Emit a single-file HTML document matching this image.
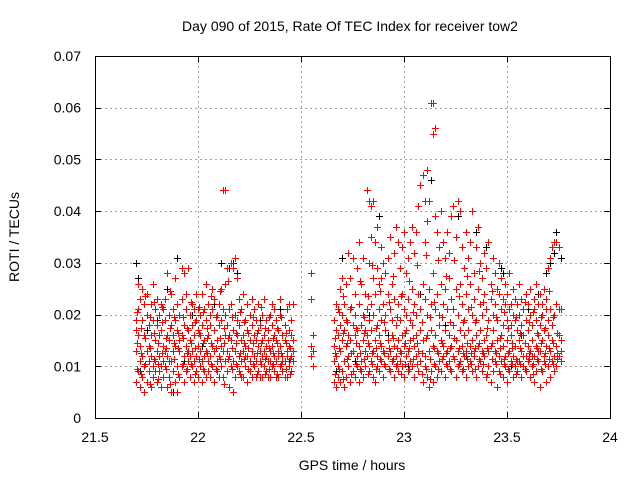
<!DOCTYPE html>
<html><head><meta charset="utf-8"><style>
html,body{margin:0;padding:0;background:#fff}
svg{display:block;font-family:"Liberation Sans",sans-serif}
</style></head><body>
<svg id="chart" width="640" height="480" viewBox="0 0 640 480" xmlns="http://www.w3.org/2000/svg">
<rect width="640" height="480" fill="#fff"/>
<text x="350" y="31" font-size="14" text-anchor="middle">Day 090 of 2015, Rate Of TEC Index for receiver tow2</text>
<text transform="translate(19,237) rotate(-90)" font-size="14" text-anchor="middle">ROTI / TECUs</text>
<text x="352" y="470" font-size="14" text-anchor="middle">GPS time / hours</text>
<g id="grid"></g>
<g id="ticks"></g>
<g id="black"></g>
<g id="red"></g>
<rect x="95.5" y="56.5" width="515" height="362" fill="none" stroke="#000" stroke-width="1"/>
</svg>
<script>
const xTicks=[21.5,22,22.5,23,23.5,24];
const xTickLabels=["21.5","22","22.5","23","23.5","24"];
const yTicks=[0,0.01,0.02,0.03,0.04,0.05,0.06,0.07];
const yTickLabels=["0","0.01","0.02","0.03","0.04","0.05","0.06","0.07"];
const redT=[21.70,21.71,21.72,21.73,21.74,21.75,21.76,21.77,21.78,21.79,21.80,21.81,21.82,21.83,21.84,21.85,21.86,21.87,21.88,21.89,21.90,21.91,21.92,21.93,21.94,21.95,21.96,21.97,21.98,21.99,22.00,22.01,22.02,22.03,22.04,22.05,22.06,22.07,22.08,22.09,22.10,22.11,22.12,22.13,22.14,22.15,22.16,22.17,22.18,22.19,22.20,22.21,22.22,22.23,22.24,22.25,22.26,22.27,22.28,22.29,22.30,22.31,22.32,22.33,22.34,22.35,22.36,22.37,22.38,22.39,22.40,22.41,22.42,22.43,22.44,22.45,22.46,
22.55,22.56,
22.66,22.67,22.68,22.69,22.70,22.71,22.72,22.73,22.74,22.75,22.76,22.77,22.78,22.79,22.80,22.81,22.82,22.83,22.84,22.85,22.86,22.87,22.88,22.89,22.90,22.91,22.92,22.93,22.94,22.95,22.96,22.97,22.98,22.99,23.00,23.01,23.02,23.03,23.04,23.05,23.06,23.07,23.08,23.09,23.10,23.11,23.12,23.13,23.14,23.15,23.16,23.17,23.18,23.19,23.20,23.21,23.22,23.23,23.24,23.25,23.26,23.27,23.28,23.29,23.30,23.31,23.32,23.33,23.34,23.35,23.36,23.37,23.38,23.39,23.40,23.41,23.42,23.43,23.44,23.45,23.46,23.47,23.48,23.49,23.50,23.51,23.52,23.53,23.54,23.55,23.56,23.57,23.58,23.59,23.60,23.61,23.62,23.63,23.64,23.65,23.66,23.67,23.68,23.69,23.70,23.71,23.72,23.73,23.74,23.75,23.76];
const redV=[[.007,.013,.019,.017],[.009,.016,.021,.026],[.006,.011,.023,.014],[.008,.019,.025,.012],[.010,.005,.016,.022],[.007,.013,.020,.024],[.009,.014,.018,.011],[.006,.012,.022,.016],[.008,.010,.019,.026],[.011,.015,.021,.009],[.007,.013,.018,.023],[.009,.016,.012,.020],[.006,.010,.017,.022],[.008,.014,.021,.011],[.010,.013,.019,.023],[.006,.012,.016,.028],[.008,.015,.020,.011],[.005,.011,.018,.024],[.009,.013,.021,.016],[.007,.014,.019,.027],[.005,.010,.017,.022],[.008,.013,.020,.015],[.010,.016,.023,.029],[.007,.012,.018,.028],[.009,.014,.021,.024],[.011,.013,.017,.029],[.008,.015,.020,.012],[.010,.013,.018,.022],[.007,.016,.021,.011],[.009,.012,.019,.024],[.008,.014,.017,.021],[.010,.013,.020,.016],[.007,.011,.018,.024],[.009,.015,.021,.012],[.008,.013,.019,.026],[.011,.016,.022,.009],[.008,.012,.018,.020],[.010,.014,.021,.025],[.007,.013,.017,.023],[.009,.015,.020,.011],[.012,.018,.022,.008],[.010,.014,.019,.025],[.008,.013,.021,.044],[.011,.016,.020,.044,.026],[.009,.013,.018,.029],[.006,.012,.016,.021],[.010,.015,.022,.030],[.005,.011,.017,.029],[.008,.013,.020,.031],[.010,.016,.019,.027],[.009,.012,.018,.023],[.011,.015,.021,.008],[.008,.013,.016,.024],[.010,.014,.019,.012],[.007,.012,.017,.022],[.009,.015,.020,.011],[.008,.013,.018,.023],[.010,.016,.021,.012],[.008,.011,.015,.019],[.009,.014,.017,.022],[.011,.013,.018,.008],[.008,.015,.020,.012],[.010,.013,.016,.023],[.009,.012,.019,.014],[.011,.015,.017,.008],[.008,.013,.020,.011],[.010,.014,.018,.022],[.009,.012,.016,.021],[.011,.015,.019,.008],[.008,.013,.017,.012],[.010,.014,.020,.023],[.009,.012,.016,.011],[.011,.015,.018,.008],[.008,.013,.021,.012],[.010,.014,.017,.022],[.009,.012,.016,.019],[.011,.015,.013,.022],
[.012,.014,.023,.028],[.010,.013,.016],
[.007,.014,.019,.011],[.006,.012,.017,.022],[.008,.016,.021,.010],[.007,.013,.018,.025],[.009,.015,.020,.027],[.006,.011,.017,.022],[.008,.014,.019,.026],[.010,.012,.016,.032],[.007,.015,.021,.027],[.009,.013,.018,.031],[.008,.016,.020,.024],[.010,.012,.017,.029],[.007,.014,.022,.034],[.009,.011,.018,.026],[.008,.015,.020,.031],[.010,.013,.017,.024],[.012,.016,.021,.044],[.009,.014,.019,.042,.030],[.011,.017,.022,.041,.035],[.008,.013,.020,.042,.027],[.007,.015,.024,.034],[.010,.012,.018,.029,.037],[.009,.016,.021,.026],[.011,.014,.019,.033,.027],[.008,.013,.022,.030],[.010,.017,.020,.028],[.012,.015,.024,.031],[.009,.013,.021,.035],[.011,.016,.019,.026],[.008,.014,.023,.032],[.010,.012,.018,.037],[.009,.015,.022,.034],[.011,.013,.019,.029],[.010,.016,.024,.033],[.008,.014,.021,.036],[.012,.017,.020,.028],[.009,.013,.023,.031],[.011,.015,.019,.034],[.010,.018,.025,.037],[.008,.014,.022,.032],[.012,.016,.020,.036],[.009,.013,.024,.041],[.011,.017,.021,.045],[.007,.015,.026,.047],[.010,.012,.023,.042,.034],[.008,.016,.020,.048,.038],[.006,.013,.025,.042],[.009,.017,.022,.061],[.007,.014,.028,.061,.055],[.010,.016,.021,.056,.039],[.008,.013,.024,.036],[.011,.018,.020,.033],[.009,.015,.026,.040],[.012,.014,.022,.034],[.008,.017,.025,.031],[.010,.013,.021,.036],[.011,.016,.027,.032],[.009,.014,.023,.039],[.012,.018,.021,.041],[.008,.015,.025,.035],[.010,.013,.020,.042],[.011,.017,.026,.040],[.009,.014,.022,.033],[.012,.016,.019,.029],[.008,.013,.024,.036],[.010,.017,.021,.031],[.011,.014,.026,.034],[.009,.015,.020,.040],[.012,.013,.023,.028],[.008,.016,.019,.033],[.010,.014,.025,.037],[.011,.017,.022,.030],[.009,.013,.020,.027],[.012,.015,.024,.032],[.008,.016,.021,.029],[.010,.013,.019,.034],[.007,.014,.023,.026],[.009,.017,.020,.031],[.011,.013,.022,.028],[.006,.015,.019,.025],[.009,.012,.024,.030],[.011,.016,.021,.027],[.008,.014,.018,.023],[.010,.012,.022,.026],[.007,.015,.019,.024],[.009,.013,.021,.028],[.011,.016,.018,.022],[.008,.012,.020,.025],[.010,.014,.023,.019],[.009,.011,.017,.022],[.011,.015,.020,.026],[.008,.013,.018,.023],[.010,.016,.021,.012],[.009,.012,.019,.024],[.011,.014,.017,.022],[.008,.013,.020,.025],[.010,.015,.018,.012],[.007,.012,.021,.023],[.009,.014,.019,.026],[.011,.016,.022,.013],[.006,.013,.018,.024],[.009,.015,.020,.022],[.011,.012,.017,.025],[.007,.014,.021,.023],[.010,.016,.019,.029],[.008,.013,.021,.031],[.011,.015,.018,.033],[.009,.012,.020,.034],[.010,.014,.022,.034],[.012,.016,.021,.033],[.011,.013,.015,.021]];
const redT2=[21.705,21.725,21.745,21.765,21.785,21.805,21.825,21.845,21.865,21.885,21.905,21.925,21.945,21.965,21.985,22.005,22.025,22.045,22.065,22.085,22.105,22.125,22.145,22.165,22.185,22.205,22.225,22.245,22.265,22.285,22.305,22.325,22.345,22.365,22.385,22.405,22.425,22.445,
22.665,22.685,22.705,22.725,22.745,22.765,22.785,22.805,22.825,22.845,22.865,22.885,22.905,22.925,22.945,22.965,22.985,23.005,23.025,23.045,23.065,23.085,23.105,23.125,23.145,23.165,23.185,23.205,23.225,23.245,23.265,23.285,23.305,23.325,23.345,23.365,23.385,23.405,23.425,23.445,23.465,23.485,23.505,23.525,23.545,23.565,23.585,23.605,23.625,23.645,23.665,23.685,23.705,23.725,23.745];
const redV2=[[.0145,.0095,.0205],[.0125,.0175,.0085],[.0155,.0235,.0105],[.0135,.0065,.0195],[.0165,.0115,.0225],[.0105,.0145,.0075],[.0185,.0125,.0215],[.0095,.0155,.0135],[.0175,.0065,.0245],[.0115,.0145,.0195],[.0135,.0085,.0165],[.0105,.0155,.0195],[.0125,.0175,.0095],[.0145,.0105,.0225],[.0135,.0085,.0185],[.0115,.0165,.0215],[.0145,.0095,.0205],[.0125,.0175,.0155],[.0105,.0145,.0235],[.0135,.0195,.0095],[.0155,.0115,.0245],[.0145,.0175,.0065],[.0115,.0155,.0265],[.0135,.0095,.0195],[.0105,.0165,.0145],[.0125,.0085,.0205],[.0145,.0115,.0185],[.0135,.0095,.0165],[.0105,.0145,.0195],[.0125,.0085,.0165],[.0145,.0105,.0215],[.0115,.0175,.0085],[.0135,.0095,.0195],[.0105,.0155,.0125],[.0145,.0085,.0175],[.0125,.0105,.0195],[.0095,.0145,.0165],[.0115,.0135,.0085],
[.0085,.0155,.0125],[.0095,.0135,.0205],[.0075,.0165,.0235],[.0115,.0145,.0185],[.0085,.0125,.0215],[.0105,.0175,.0145],[.0095,.0125,.0265],[.0115,.0165,.0195],[.0085,.0145,.0235],[.0125,.0105,.0295],[.0095,.0175,.0135],[.0115,.0145,.0245],[.0105,.0185,.0125],[.0135,.0095,.0225],[.0115,.0155,.0275],[.0105,.0135,.0195],[.0125,.0085,.0235],[.0105,.0165,.0145],[.0135,.0095,.0265],[.0115,.0155,.0205],[.0105,.0145,.0295],[.0125,.0085,.0185],[.0095,.0155,.0315],[.0115,.0075,.0195],[.0105,.0135,.0225],[.0125,.0095,.0305],[.0115,.0145,.0195],[.0105,.0125,.0275],[.0135,.0095,.0185],[.0115,.0155,.0305],[.0105,.0135,.0235],[.0125,.0095,.0185],[.0115,.0145,.0275],[.0105,.0125,.0215],[.0135,.0095,.0185],[.0115,.0145,.0285],[.0105,.0125,.0225],[.0135,.0085,.0175],[.0115,.0145,.0245],[.0105,.0125,.0195],[.0135,.0085,.0155],[.0115,.0105,.0205],[.0125,.0095,.0175],[.0105,.0135,.0145],[.0115,.0085,.0195],[.0135,.0105,.0165],[.0095,.0145,.0225],[.0115,.0125,.0185],[.0105,.0085,.0205],[.0135,.0115,.0165],[.0095,.0145,.0195],[.0125,.0105,.0175],[.0115,.0135,.0245],[.0105,.0145,.0195],[.0125,.0115,.0165]];
const blackT=[21.70,21.71,21.72,21.75,21.80,21.85,21.88,21.90,21.93,21.97,22.02,22.08,22.11,22.13,22.15,22.17,22.19,22.25,22.30,22.35,22.40,22.44,22.67,22.70,22.76,22.83,22.88,22.92,22.97,23.02,23.08,23.13,23.20,23.26,23.30,23.35,23.40,23.45,23.47,23.48,23.52,23.57,23.60,23.65,23.69,23.71,23.73,23.74,23.76,23.76];
const blackV=[.030,.027,.009,.017,.019,.025,.005,.031,.011,.020,.014,.022,.030,.044,.029,.030,.028,.009,.019,.013,.021,.011,.009,.031,.011,.020,.039,.016,.034,.010,.024,.046,.018,.039,.012,.036,.033,.015,.029,.028,.010,.016,.021,.024,.028,.030,.032,.036,.031,.013];

const X0=95,X1=610,Y0=418,Y1=56;
const xs=v=>X0+(v-21.5)/(24-21.5)*(X1-X0);
const ys=v=>Y0-(v/0.07)*(Y0-Y1);
const NS="http://www.w3.org/2000/svg";
const grid=document.getElementById('grid'),ticks=document.getElementById('ticks');
function mk(tag,attrs,parent){const e=document.createElementNS(NS,tag);for(const k in attrs)e.setAttribute(k,attrs[k]);parent.appendChild(e);return e;}
xTicks.forEach((t,i)=>{
  const x=Math.round(xs(t))+0.5;
  if(i>0&&i<xTicks.length-1){const g=mk('line',{x1:x,x2:x,y1:Y0,y2:Y1,stroke:'#a0a0a0','stroke-dasharray':'2,3'},grid);
  
  }
  const tk=mk('path',{d:`M${x} ${Y0}v-6M${x} ${Y1}v6`,stroke:'#000'},ticks);
  
  
  const l=mk('text',{x:xs(t),y:442,'font-size':14,'text-anchor':'middle'},ticks);l.textContent=xTickLabels[i];
  
  
});
yTicks.forEach((t,i)=>{
  const y=Math.round(ys(t))+0.5;
  if(i>0&&i<yTicks.length-1){const g=mk('line',{x1:X0,x2:X1,y1:y,y2:y,stroke:'#a0a0a0','stroke-dasharray':'2,3'},grid);
  
  }
  const tk=mk('path',{d:`M${X0} ${y}h6M${X1} ${y}h-6`,stroke:'#000'},ticks);
  
  
  const l=mk('text',{x:81,y:ys(t)+5,'font-size':14,'text-anchor':'end'},ticks);l.textContent=yTickLabels[i];
  
  
});
function plus(x,y){const px=Math.round(x)+0.5,py=Math.round(y)+0.5;return `M${px-3.5} ${py}h7M${px} ${py-3.5}v7`;}
let bd='';blackT.forEach((t,i)=>{bd+=plus(xs(t),ys(blackV[i]));});
const bp=mk('path',{d:bd,stroke:'#000',fill:'none','shape-rendering':'crispEdges'},document.getElementById('black'));


let rd='';
redT.forEach((t,i)=>{redV[i].forEach(v=>{rd+=plus(xs(t),ys(v));});});
redT2.forEach((t,i)=>{redV2[i].forEach(v=>{rd+=plus(xs(t),ys(v));});});
const rp=mk('path',{d:rd,stroke:'#ff0000',fill:'none','shape-rendering':'crispEdges'},document.getElementById('red'));


</script>
</body></html>
